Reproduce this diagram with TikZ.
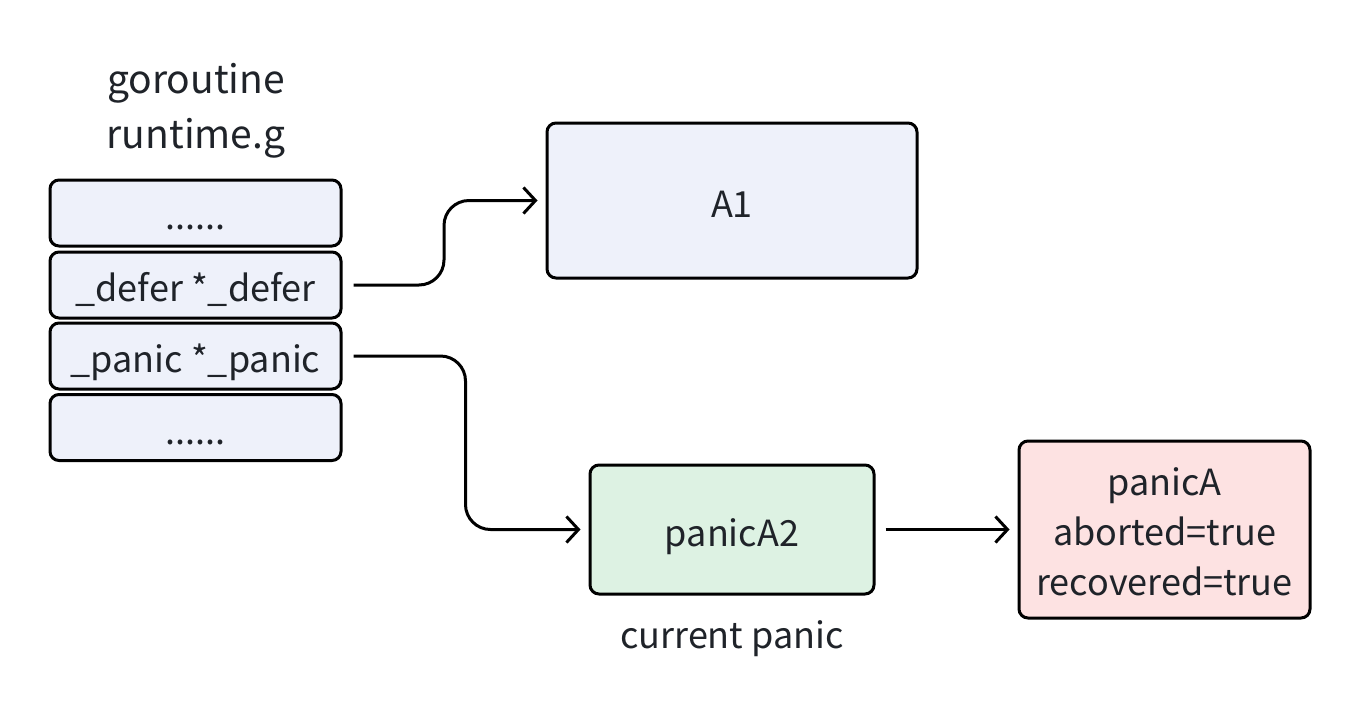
\documentclass[tikz,border=0pt]{standalone}
\usepackage{fontspec}
\setmainfont{Noto Sans CJK SC}
\usetikzlibrary{arrows.meta,calc}
\definecolor{txt}{HTML}{1F2329}
\definecolor{bluef}{HTML}{EEF1FA}
\definecolor{greenf}{HTML}{DDF2E3}
\definecolor{pinkf}{HTML}{FDE2E2}
\tikzset{
  box/.style={draw=black, line width=3pt, rounded corners=9pt, inner sep=0pt, text=txt, font=\fontsize{36}{50}\selectfont},
  oneline/.style={text height=33pt, text depth=0pt},
  stackbox/.style={box, oneline, fill=bluef, minimum width=291pt, minimum height=66pt},
  label/.style={text=txt, inner sep=0pt},
  arr/.style={line width=3pt, rounded corners=25pt, -{Straight Barb[length=12pt,width=26pt,line width=3pt]}}
}
\begin{document}
\begin{tikzpicture}[x=1pt,y=-1pt]
\useasboundingbox (0,0) rectangle (1362,710);
\node[label, font=\fontsize{39}{55}\selectfont, anchor=base] (title) at (196,93)
  {\begin{tabular}[t]{@{}c@{}}goroutine\\runtime.g\end{tabular}};
\node[stackbox] (s1) at (195.5,213) {......};
\node[stackbox] (d) at (195.5,285) {\_defer *\_defer};
\node[stackbox] (p) at (195.5,356) {\_panic *\_panic};
\node[stackbox] (s4) at (195.5,427.5) {......};
\node[box, oneline, fill=bluef, minimum width=370pt, minimum height=155pt] (A1) at (732,200.5) {A1};
\node[box, oneline, fill=greenf, minimum width=284pt, minimum height=129pt] (B) at (732,529.5) {panicA2};
\node[box, fill=pinkf, minimum width=291pt, minimum height=177pt] (C) at (1164.5,529.5)
  {\raisebox{-5.5pt}[\height][\depth]{\begin{tabular}{@{}c@{}}panicA\\aborted=true\\recovered=true\end{tabular}}};
\node[label, font=\fontsize{36}{50}\selectfont, anchor=base] (cur) at (732,648) {current panic};
\coordinate (m1) at ($(d.east)!.5!(A1.west)$);
\coordinate (m2) at ($(p.east)!.5!(B.west)$);
\draw[arr] ([xshift=11pt]d.east) -| (m1 |- A1.west) -- ([xshift=-8pt]A1.west);
\draw[arr] ([xshift=11pt]p.east) -| (m2 |- B.west) -- ([xshift=-8pt]B.west);
\draw[arr] ([xshift=10pt]B.east) -- ([xshift=-8pt]C.west);
\end{tikzpicture}
\end{document}
